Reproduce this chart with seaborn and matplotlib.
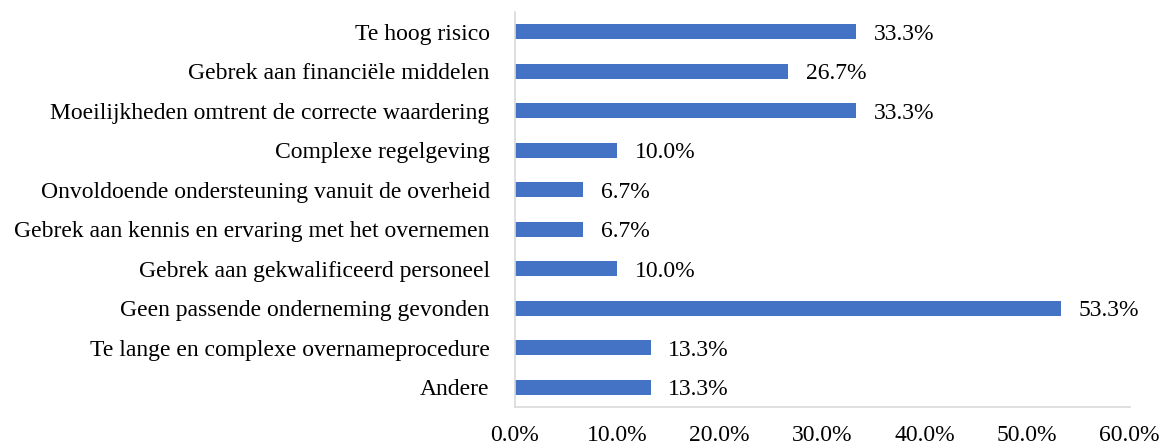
import numpy as np
import pandas as pd
from matplotlib import pyplot as plt
from matplotlib.ticker import FuncFormatter
import seaborn as sns


CATEGORIES = [
    'Te hoog risico',
    'Gebrek aan financiële middelen',
    'Moeilijkheden omtrent de correcte waardering',
    'Complexe regelgeving',
    'Onvoldoende ondersteuning vanuit de overheid',
    'Gebrek aan kennis en ervaring met het overnemen',
    'Gebrek aan gekwalificeerd personeel',
    'Geen passende onderneming gevonden',
    'Te lange en complexe overnameprocedure',
    'Andere',
]
VALUES = [33.3, 26.7, 33.3, 10.0, 6.7, 6.7, 10.0, 53.3, 13.3, 13.3]
X_TICKS = [0, 10, 20, 30, 40, 50, 60]


def plot_bars(fig_name):
    sns.set_style('white')
    plt.rcParams['font.family'] = ['Liberation Serif', 'DejaVu Serif']
    plt.rcParams['font.size'] = 17
    plt.rcParams['text.color'] = 'black'
    plt.rcParams['xtick.color'] = 'black'
    plt.rcParams['ytick.color'] = 'black'

    df = pd.DataFrame({'category': CATEGORIES, 'value': VALUES})
    fig = plt.figure(figsize=(11.67, 4.46), dpi=100)
    ax = fig.add_axes([0.441, 0.087, 0.527, 0.886])
    sns.barplot(data=df, x='value', y='category', orient='h', color='#4472C4',
                width=0.38, saturation=1, linewidth=0, ax=ax)

    for i, v in enumerate(VALUES):
        ax.text(v + 1.7, i, f'{v:.1f}%', va='center_baseline', ha='left', fontsize=17)

    ax.set_xlim(0, 60)
    ax.set_ylim(9.5, -0.5)
    ax.set_xticks(X_TICKS)
    ax.xaxis.set_major_formatter(FuncFormatter(lambda x, _: f'{x:.1f}%'))
    ax.set_xlabel('')
    ax.set_ylabel('')
    ax.tick_params(axis='x', length=0, pad=13, labelsize=17)
    ax.tick_params(axis='y', length=0, pad=18, labelsize=17)
    for side in ['top', 'right']:
        ax.spines[side].set_visible(False)
    for side in ['left', 'bottom']:
        ax.spines[side].set_color('#D9D9D9')
        ax.spines[side].set_linewidth(1.2)

    fig.savefig(fig_name, dpi=100)


if __name__ == '__main__':
    plot_bars('out.png')
